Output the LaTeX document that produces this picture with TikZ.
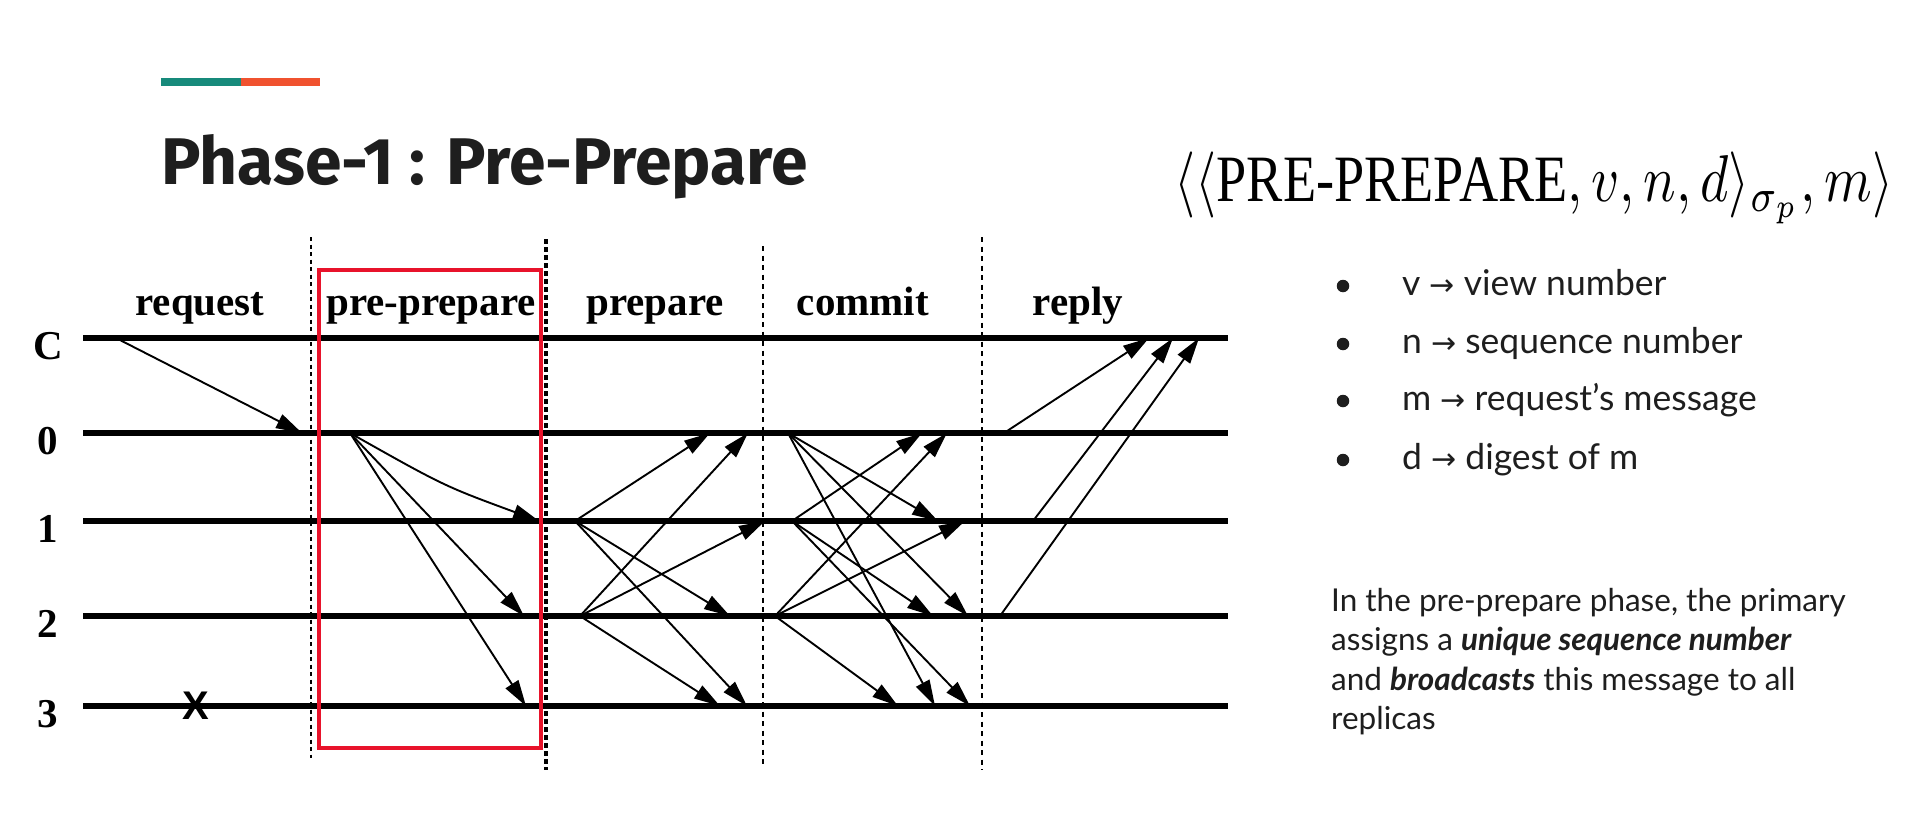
\documentclass[tikz,border=0pt]{standalone}
\usepackage{fontspec}
\usepackage{graphicx}
\usetikzlibrary{arrows.meta}
\setmainfont{Lato}
\newfontfamily\titlefont{Fira Sans}
\newfontfamily\timesfont{Liberation Serif}
\newfontfamily\arrowfont{DejaVu Sans}
\newfontfamily\xfont{Liberation Sans}
\definecolor{teal1}{HTML}{178A7B}
\definecolor{orange1}{HTML}{F0522F}
\definecolor{boxred}{HTML}{E8132B}
\definecolor{ink}{HTML}{1E1E1E}
\newcommand{\rarr}{{\arrowfont\fontsize{30}{30}\selectfont →}}
\begin{document}
\begin{tikzpicture}[x=1pt,y=-1pt,
  tl/.style={line width=5.5pt, black},
  msg/.style={line width=1.9pt, black, -{Triangle[length=26pt,width=15pt]}},
  sepline/.style={line width=2pt, dash pattern=on 4pt off 3.5pt},
  collab/.style={font=\timesfont\bfseries\fontsize{41}{41}\selectfont, anchor=base, inner sep=0},
  rowlab/.style={font=\timesfont\bfseries\fontsize{41}{41}\selectfont, anchor=center, inner sep=0},
  bul/.style={circle, fill=ink, inner sep=0, minimum size=12.5pt},
  bultext/.style={anchor=base west, inner sep=0, text=ink, font=\fontsize{35.5}{35.5}\selectfont},
  para/.style={anchor=base west, inner sep=0, text=ink, font=\fontsize{31.5}{31.5}\selectfont},
]
\fill[white] (0,0) rectangle (1910,822);
\useasboundingbox (0,0) rectangle (1910,822);

% header bar and title
\fill[teal1] (161,78) rectangle (241,86);
\fill[orange1] (241,78) rectangle (320,86);
\node[anchor=base west, inner sep=0, text=ink, font=\titlefont\bfseries\fontsize{66}{66}\selectfont] (title) at (161,184) {Phase-1 : Pre-Prepare};

% formula
\node[inner sep=0] (formula) at (1534,188) {\resizebox{719pt}{!}{\scalebox{1}[1.22]{$\langle\langle \mbox{\timesfont PRE-PREPARE}, v, n, d\rangle_{\sigma_p}, m\rangle$}}};

% bullets
\foreach \i/\y/\t in {1/286/{v \rarr\ view number},
                      2/344/{n \rarr\ sequence number},
                      3/401/{m \rarr\ request's message},
                      4/460/{d \rarr\ digest of m}} {
  \node[bul] (b\i) at (1343,\y) {};
  \node[bultext] (bt\i) at (1402,\y+9) {\t};
}

% paragraph
\node[para] (para1) at (1331,611) {In the pre-prepare phase, the primary};
\node[para] (para2) at (1331,650) {assigns a \textbf{\textit{unique sequence number}}};
\node[para] (para3) at (1331,690) {and \textbf{\textit{broadcasts}} this message to all};
\node[para] (para4) at (1331,729) {replicas};

% phase separators
\coordinate (d1t) at (311,237); \coordinate (d1b) at (311,758);
\coordinate (d2t) at (546,239); \coordinate (d2b) at (546,770);
\coordinate (d3t) at (763,246); \coordinate (d3b) at (763,765);
\coordinate (d4t) at (982,237); \coordinate (d4b) at (982,770);
\draw[sepline] (d1t) -- (d1b);
\draw[line width=3.5pt, dash pattern=on 5pt off 3pt] (d2t) -- (d2b);
\draw[sepline, dash pattern=on 5pt off 4.5pt] (d3t) -- (d3b);
\draw[sepline, line width=2.4pt, dash pattern=on 5pt off 4.5pt] (d4t) -- (d4b);

% column labels
\node[collab] (lreq) at (200,315) {request};
\node[collab] (lpp) at (431,315) {pre-prepare};
\node[collab] (lpr) at (655,315) {prepare};
\node[collab] (lcm) at (863,315) {commit};
\node[collab] (lrp) at (1078,315) {reply};

% timelines
\foreach \n/\y in {C/338, 0/433, 1/521, 2/616, 3/706} {
  \coordinate (L\n) at (83,\y);
  \coordinate (R\n) at (1228,\y);
  \draw[tl] (L\n) -- (R\n);
  \node[rowlab] (lab\n) at (48,\y+8) {\n};
}

% failed replica
\node[inner sep=0, font=\xfont\bfseries\fontsize{40}{40}\selectfont] (xmark) at (196,706) {X};

% red highlight box
\draw[boxred, line width=4pt] (319,270) rectangle (541,748);

% request
\coordinate (rq0) at (116,338); \coordinate (rq1) at (302,433);
\draw[msg] (rq0) -- (rq1);

% pre-prepare
\coordinate (pp0) at (350,433);
\coordinate (pp1) at (539,521); \coordinate (pp2) at (524,616); \coordinate (pp3) at (526,706);
\draw[msg] (pp0) .. controls (444,486) .. (pp1);
\draw[msg] (pp0) -- (pp2);
\draw[msg] (pp0) -- (pp3);

% prepare
\coordinate (pr1) at (575,521); \coordinate (pr2) at (580,616);
\coordinate (pr10) at (710,433); \coordinate (pr12) at (730,616); \coordinate (pr13) at (747,706);
\coordinate (pr20) at (748,433); \coordinate (pr21) at (765,521); \coordinate (pr23) at (720,706);
\draw[msg] (pr1) -- (pr10);
\draw[msg] (pr1) -- (pr12);
\draw[msg] (pr1) -- (pr13);
\draw[msg] (pr2) -- (pr20);
\draw[msg] (pr2) -- (pr21);
\draw[msg] (pr2) -- (pr23);

% commit
\coordinate (cm0) at (788,433); \coordinate (cm1) at (792,521); \coordinate (cm2) at (775,616);
\coordinate (cm01) at (938,521); \coordinate (cm02) at (968,616); \coordinate (cm03) at (935,706);
\coordinate (cm10) at (922,433); \coordinate (cm12) at (933,616); \coordinate (cm13) at (970,706);
\coordinate (cm20) at (947,433); \coordinate (cm21) at (965,521); \coordinate (cm23) at (898,706);
\draw[msg] (cm0) -- (cm01);
\draw[msg] (cm0) -- (cm02);
\draw[msg] (cm0) -- (cm03);
\draw[msg] (cm1) -- (cm10);
\draw[msg] (cm1) -- (cm12);
\draw[msg] (cm1) -- (cm13);
\draw[msg] (cm2) -- (cm20);
\draw[msg] (cm2) -- (cm21);
\draw[msg] (cm2) -- (cm23);

% reply
\coordinate (rp0) at (1004,433); \coordinate (rp1) at (1033,521); \coordinate (rp2) at (1000,616);
\coordinate (rpc0) at (1149,338); \coordinate (rpc1) at (1173,338); \coordinate (rpc2) at (1199,338);
\draw[msg] (rp0) -- (rpc0);
\draw[msg] (rp1) -- (rpc1);
\draw[msg] (rp2) -- (rpc2);
\end{tikzpicture}
\end{document}
